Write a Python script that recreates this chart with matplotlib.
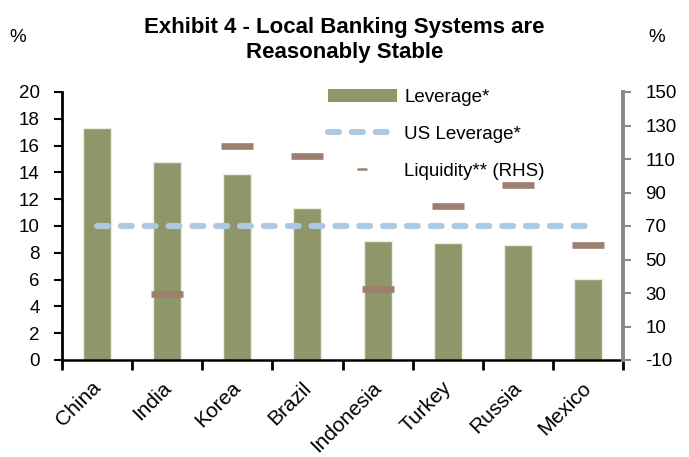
import numpy as np
import matplotlib

matplotlib.use("Agg")
import matplotlib.pyplot as plt
import matplotlib.transforms as mtransforms
from matplotlib.lines import Line2D
from matplotlib.patches import Patch

plt.rcParams["font.family"] = ["Liberation Sans", "DejaVu Sans"]
plt.rcParams["axes.unicode_minus"] = False

countries = ["China", "India", "Korea", "Brazil", "Indonesia", "Turkey", "Russia", "Mexico"]
leverage = [17.3, 14.75, 13.9, 11.35, 8.85, 8.7, 8.55, 6.05]
us_leverage = 10.0
liquidity = [np.nan, 29.3, 117.6, 111.6, 32.2, 81.8, 94.3, 58.5]

bar_col = "#8f966a"
us_col = "#adc9e2"
liq_col = "#9c7f70"
grey = "#888888"

x = np.arange(len(countries))

fg = plt.figure(figsize=(6.89, 4.57), dpi=100)
ax = fg.add_axes([62 / 689, 1 - 360 / 457, 561 / 689, 268 / 457])
ax2 = ax.twinx()

ax.bar(x, leverage, width=0.4, color=bar_col, edgecolor="#eceedd", linewidth=1.0, zorder=2)
ax.plot([x[0], x[-1]], [us_leverage, us_leverage], color=us_col, lw=4.4,
        dashes=(1.8, 2.1), dash_capstyle="round", zorder=3)
ax2.plot(x, liquidity, linestyle="", marker="_", ms=23, mew=4.8, color=liq_col, zorder=4)

ax.set_xlim(-0.5, len(countries) - 0.5)
ax.set_ylim(0, 20)
ax.set_yticks(np.arange(0, 21, 2))
ax2.set_ylim(-10, 150)
ax2.set_yticks(np.arange(-10, 151, 20))

# tick marks at category boundaries, labels at the centres
ax.set_xticks(np.arange(-0.5, len(countries), 1))
ax.set_xticklabels([])
ax.set_xticks(x, minor=True)
ax.set_xticklabels(countries, minor=True)
ax.tick_params(axis="x", which="major", direction="out", length=7, width=2, color="black")
ax.tick_params(axis="x", which="minor", length=0, pad=13, labelsize=15, labelrotation=45)
offset = mtransforms.ScaledTranslation(-6 / 100, 0, fg.dpi_scale_trans)
for lbl in ax.get_xticklabels(minor=True):
    lbl.set_ha("right")
    lbl.set_va("top")
    lbl.set_rotation_mode("anchor")
    lbl.set_transform(lbl.get_transform() + offset)

ax.tick_params(axis="y", direction="out", length=6, width=1.5, pad=10, labelsize=13.5)
ax2.tick_params(axis="y", direction="out", length=6, width=1.5, color=grey, pad=10, labelsize=13.5)

for s in ["top", "right"]:
    ax.spines[s].set_visible(False)
ax.spines["left"].set_linewidth(2)
ax.spines["bottom"].set_linewidth(1.8)
for s in ["top", "left", "bottom"]:
    ax2.spines[s].set_visible(False)
ax2.spines["right"].set_color(grey)
ax2.spines["right"].set_linewidth(2.8)
ax.set_zorder(ax2.get_zorder() - 1)
ax2.patch.set_visible(False)

handles = [
    Patch(facecolor=bar_col, edgecolor="none"),
    Line2D([], [], color=us_col, lw=4.4, dashes=(1.8, 2.1), dash_capstyle="round"),
    Line2D([], [], linestyle="", marker="_", ms=7, mew=1.8, color=liq_col),
]
labels = ["Leverage*", "US Leverage*", "Liquidity** (RHS)"]
ax2.legend(handles, labels, loc="upper left", bbox_to_anchor=(0.46, 1.04), frameon=False,
           fontsize=13.5, handlelength=3.7, handleheight=0.7, handletextpad=0.4,
           labelspacing=1.05, borderaxespad=0)

fg.text(0.5, 1 - 40 / 457, "Exhibit 4 - Local Banking Systems are\nReasonably Stable",
        ha="center", va="center", fontsize=16, fontweight="bold", linespacing=1.2)
fg.text(18 / 689, 1 - 37 / 457, "%", ha="center", va="center", fontsize=13.5)
fg.text(657 / 689, 1 - 37 / 457, "%", ha="center", va="center", fontsize=13.5)

fg.savefig("out.png", dpi=100, facecolor="white")
plt.close(fg)
